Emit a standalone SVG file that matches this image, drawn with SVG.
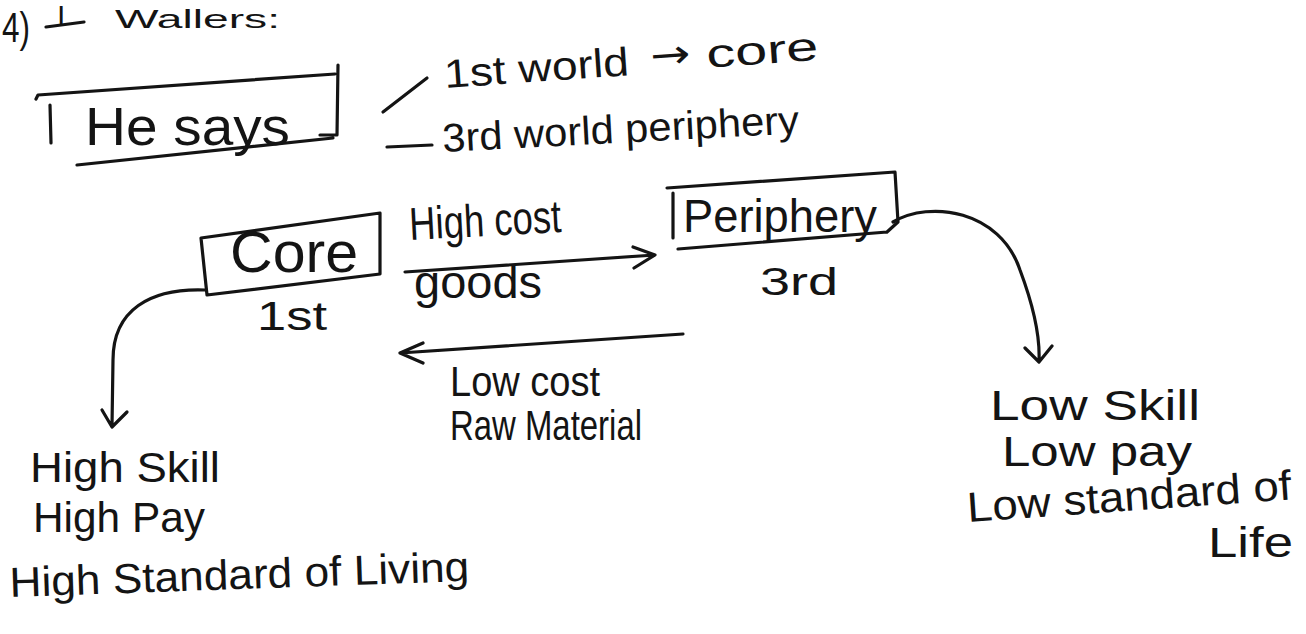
<svg xmlns="http://www.w3.org/2000/svg" width="1306" height="634" viewBox="0 0 1306 634">
<defs>
<style>
.t{font-family:"Liberation Sans","DejaVu Sans",sans-serif;fill:#141414;}
.ln{fill:none;stroke:#141414;stroke-width:3.2;stroke-linecap:round;stroke-linejoin:round;}
</style>
</defs>
<rect width="1306" height="634" fill="#ffffff"/>
<g id="heading">
<text class="t" x="2" y="42" font-size="42" textLength="28" lengthAdjust="spacingAndGlyphs">4)</text>
<text class="t" x="57" y="26" font-size="30">I</text>
<path class="ln" d="M46 27 L84 22"/>
<text class="t" x="115" y="28" font-size="26" textLength="165" lengthAdjust="spacingAndGlyphs">Wallers:</text>
</g>
<g id="he-says">
<path class="ln" d="M36 99 L38 95 L335 74 M338 65 L337 135 L320 135 M50 105 L51 143 M77 165 L333 138"/>
<text class="t" x="85" y="145" font-size="54" textLength="205" lengthAdjust="spacingAndGlyphs">He says</text>
</g>
<g id="world-notes">
<path class="ln" d="M383 112 L427 78 M387 147 L432 145"/>
<g transform="rotate(-4 445 88)">
<text class="t" x="445" y="88" font-size="40" textLength="185" lengthAdjust="spacingAndGlyphs">1st world</text>
<text x="652" y="84" font-family="'DejaVu Sans',sans-serif" font-size="40" fill="#141414" textLength="40" lengthAdjust="spacingAndGlyphs">→</text>
<text class="t" x="708" y="86" font-size="40" textLength="112" lengthAdjust="spacingAndGlyphs">core</text>
</g>
<text class="t" x="443" y="152" font-size="40" textLength="357" lengthAdjust="spacingAndGlyphs" transform="rotate(-3 443 152)">3rd world periphery</text>
</g>
<g id="core">
<path class="ln" d="M201 238 L380 213 L380 274 L207 295 Z"/>
<text class="t" x="230" y="272" font-size="58" textLength="128" lengthAdjust="spacingAndGlyphs">Core</text>
<text class="t" x="257" y="330" font-size="40" textLength="70" lengthAdjust="spacingAndGlyphs">1st</text>
</g>
<g id="periphery">
<path class="ln" d="M667 188 L895 172 L898 222 L887 232 M678 249 L887 232 M673 193 L673 238"/>
<text class="t" x="683" y="232" font-size="46" textLength="194" lengthAdjust="spacingAndGlyphs">Periphery</text>
<text class="t" x="760" y="295" font-size="38" textLength="78" lengthAdjust="spacingAndGlyphs">3rd</text>
</g>
<g id="flow-labels">
<text class="t" x="410" y="240" font-size="46" textLength="152" lengthAdjust="spacingAndGlyphs" transform="rotate(-3 410 240)">High cost</text>
<text class="t" x="414" y="298" font-size="46" textLength="128" lengthAdjust="spacingAndGlyphs">goods</text>
<text class="t" x="450" y="396" font-size="42" textLength="150" lengthAdjust="spacingAndGlyphs">Low cost</text>
<text class="t" x="450" y="440" font-size="42" textLength="192" lengthAdjust="spacingAndGlyphs">Raw Material</text>
</g>
<g id="core-outcomes">
<text class="t" x="30" y="482" font-size="42" textLength="190" lengthAdjust="spacingAndGlyphs">High Skill</text>
<text class="t" x="33" y="532" font-size="42" textLength="172" lengthAdjust="spacingAndGlyphs">High Pay</text>
<text class="t" x="10" y="597" font-size="42" textLength="460" lengthAdjust="spacingAndGlyphs" transform="rotate(-2 10 597)">High Standard of Living</text>
</g>
<g id="periphery-outcomes">
<text class="t" x="990" y="420" font-size="42" textLength="210" lengthAdjust="spacingAndGlyphs">Low Skill</text>
<text class="t" x="1002" y="466" font-size="42" textLength="190" lengthAdjust="spacingAndGlyphs">Low pay</text>
<text class="t" x="968" y="522" font-size="42" textLength="325" lengthAdjust="spacingAndGlyphs" transform="rotate(-4 968 522)">Low standard of</text>
<text class="t" x="1208" y="557" font-size="42" textLength="85" lengthAdjust="spacingAndGlyphs">Life</text>
</g>
<g id="connectors">
<path class="ln" d="M405 272 L655 255 M633 247 L655 255 L634 268"/>
<path class="ln" d="M683 334 L400 353 M423 343 L400 353 L423 363"/>
<path class="ln" d="M205 290 C150 288 113 310 113 360 L112 426 M102 410 L112 427 L127 412"/>
<path class="ln" d="M893 222 C930 200 1000 210 1020 270 C1035 310 1040 340 1039 361 M1025 348 L1039 362 L1052 346"/>
</g>
</svg>
